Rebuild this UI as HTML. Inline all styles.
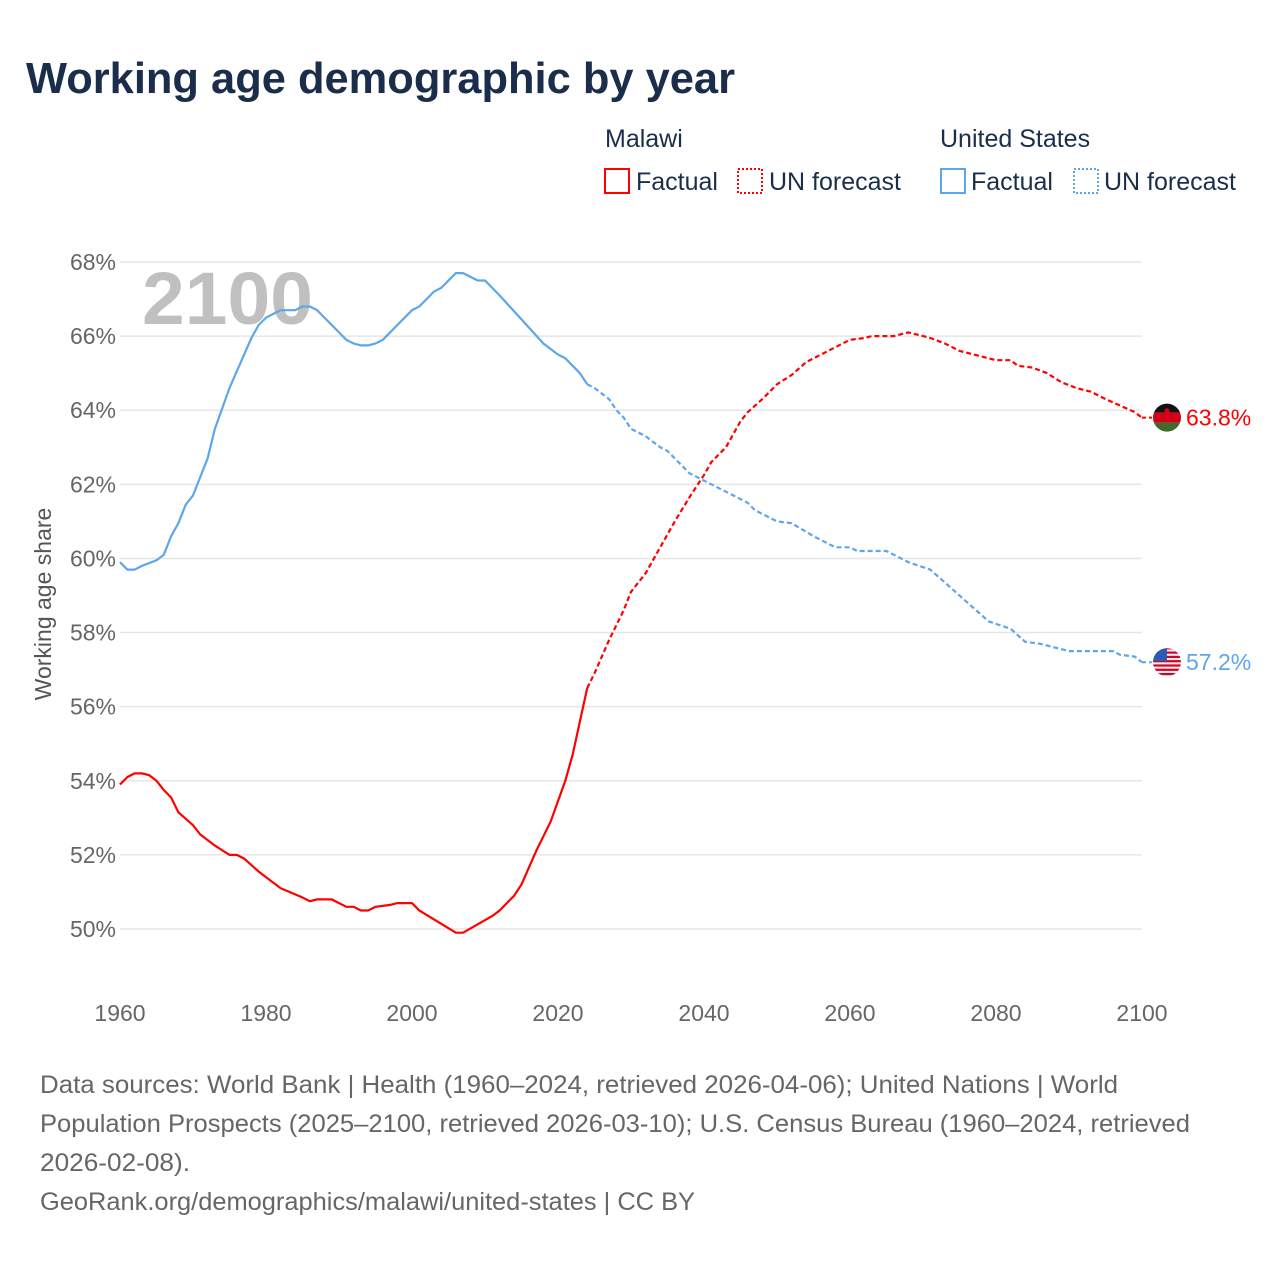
<!DOCTYPE html>
<html><head><meta charset="utf-8">
<style>
body{margin:0;background:#fff;font-family:"Liberation Sans",sans-serif;}
#wrap{position:relative;width:1280px;height:1280px;overflow:hidden;}
</style></head><body>
<div id="wrap">
<svg id="svg" width="1280" height="1280" xmlns="http://www.w3.org/2000/svg" font-family="Liberation Sans, sans-serif">
<text x="26" y="93" font-size="44" font-weight="bold" fill="#1a2e4c" textLength="709" lengthAdjust="spacingAndGlyphs">Working age demographic by year</text>
<g font-size="25" fill="#1a2e4c">
<text x="605" y="147">Malawi</text>
<rect x="605" y="169" width="24" height="24" fill="none" stroke="#f00" stroke-width="2"/>
<text x="636" y="190">Factual</text>
<rect x="738" y="169" width="24" height="24" fill="none" stroke="#f00" stroke-width="2" stroke-dasharray="2,2"/>
<text x="769" y="190">UN forecast</text>
<text x="940" y="147">United States</text>
<rect x="941" y="169" width="24" height="24" fill="none" stroke="#5ea6ea" stroke-width="2"/>
<text x="971" y="190">Factual</text>
<rect x="1074" y="169" width="24" height="24" fill="none" stroke="#5ea6ea" stroke-width="2" stroke-dasharray="2,2"/>
<text x="1104" y="190">UN forecast</text>
</g>
<g id="grid"></g>
<text x="142" y="324" font-size="74" font-weight="bold" fill="#c0c0c0" textLength="171" lengthAdjust="spacingAndGlyphs">2100</text>
<text transform="translate(51,604) rotate(-90)" text-anchor="middle" font-size="23" fill="#555">Working age share</text>
<g id="series"></g>
<g font-size="25" fill="#666">
<text x="40" y="1093" textLength="1078" lengthAdjust="spacingAndGlyphs">Data sources: World Bank | Health (1960–2024, retrieved 2026-04-06); United Nations | World</text>
<text x="40" y="1132" textLength="1150" lengthAdjust="spacingAndGlyphs">Population Prospects (2025–2100, retrieved 2026-03-10); U.S. Census Bureau (1960–2024, retrieved</text>
<text x="40" y="1171" textLength="150" lengthAdjust="spacingAndGlyphs">2026-02-08).</text>
<text x="40" y="1210" textLength="655" lengthAdjust="spacingAndGlyphs">GeoRank.org/demographics/malawi/united-states | CC BY</text>
</g>
</svg>
</div>
<script>
const yTicks=[50,52,54,56,58,60,62,64,66,68];
const xTicks=[1960,1980,2000,2020,2040,2060,2080,2100];
const usYears=[1960,1961,1962,1963,1965,1966,1967,1968,1969,1970,1972,1973,1975,1977,1978,1979,1980,1981,1982,1984,1985,1986,1987,1988,1990,1991,1992,1993,1994,1995,1996,1998,2000,2001,2003,2004,2006,2007,2009,2010,2012,2015,2018,2020,2021,2023,2024,2025,2027,2028,2029,2030,2032,2034,2035,2037,2038,2040,2042,2044,2046,2047,2050,2052,2055,2058,2060,2061,2065,2068,2071,2075,2079,2082,2084,2086,2087,2088,2090,2096,2097,2099,2100];
const usValues=[59.9,59.7,59.7,59.8,59.95,60.1,60.6,60.95,61.45,61.7,62.7,63.5,64.6,65.5,65.95,66.3,66.5,66.6,66.7,66.7,66.8,66.8,66.7,66.5,66.1,65.9,65.8,65.75,65.75,65.8,65.9,66.3,66.7,66.8,67.2,67.3,67.7,67.7,67.5,67.5,67.1,66.45,65.8,65.5,65.4,65.0,64.7,64.6,64.3,64.0,63.8,63.5,63.3,63.0,62.9,62.5,62.3,62.1,61.9,61.7,61.5,61.3,61.0,60.95,60.6,60.3,60.3,60.2,60.2,59.9,59.7,59.0,58.3,58.1,57.75,57.7,57.65,57.6,57.5,57.5,57.4,57.35,57.2];
const mwYears=[1960,1961,1962,1963,1964,1965,1966,1967,1968,1970,1971,1973,1975,1976,1977,1979,1982,1985,1986,1987,1989,1990,1991,1992,1993,1994,1995,1997,1998,2000,2001,2006,2007,2011,2012,2014,2015,2017,2019,2021,2022,2023,2024,2025,2027,2029,2030,2032,2034,2036,2038,2040,2041,2043,2045,2046,2048,2050,2052,2054,2058,2060,2062,2063,2066,2068,2070,2071,2073,2075,2077,2078,2080,2082,2083,2085,2087,2089,2091,2093,2095,2099,2100];
const mwValues=[53.9,54.1,54.2,54.2,54.15,54.0,53.75,53.55,53.15,52.8,52.55,52.25,52.0,52.0,51.9,51.55,51.1,50.85,50.75,50.8,50.8,50.7,50.6,50.6,50.5,50.5,50.6,50.65,50.7,50.7,50.5,49.9,49.9,50.35,50.5,50.9,51.2,52.1,52.9,54.0,54.7,55.6,56.5,56.9,57.8,58.6,59.1,59.6,60.3,61.0,61.65,62.25,62.6,63.0,63.7,63.95,64.3,64.7,64.95,65.3,65.7,65.9,65.95,66.0,66.0,66.1,66.0,65.95,65.8,65.6,65.5,65.45,65.35,65.35,65.2,65.15,65.0,64.75,64.6,64.5,64.3,63.95,63.8];
const lastFactual=2024;
const NS='http://www.w3.org/2000/svg';
function xs(y){return 120+(y-1960)*(1142-120)/140;}
function ys(v){return 929-(v-50)*(929-262)/18;}
const grid=document.getElementById('grid');
yTicks.forEach(t=>{
 const l=document.createElementNS(NS,'line');
 l.setAttribute('x1',120);l.setAttribute('x2',1142);l.setAttribute('y1',ys(t));l.setAttribute('y2',ys(t));
 l.setAttribute('stroke','#e6e6e6');l.setAttribute('stroke-width','1.5');
 
 
 grid.appendChild(l);
 const tx=document.createElementNS(NS,'text');
 tx.setAttribute('x',116);tx.setAttribute('y',ys(t)+8);tx.setAttribute('text-anchor','end');
 tx.setAttribute('font-size','23');tx.setAttribute('fill','#666');tx.textContent=t+'%';
 
 
 grid.appendChild(tx);
});
xTicks.forEach(t=>{
 const tx=document.createElementNS(NS,'text');
 tx.setAttribute('x',xs(t));tx.setAttribute('y',1021);tx.setAttribute('text-anchor','middle');
 tx.setAttribute('font-size','23');tx.setAttribute('fill','#666');tx.textContent=t;
 
 
 grid.appendChild(tx);
});
const ser=document.getElementById('series');
function draw(years,vals,color,name){
 const a=[],b=[];
 years.forEach((y,i)=>{const p=xs(y).toFixed(1)+','+ys(vals[i]).toFixed(1);
  if(y<=lastFactual)a.push(p); if(y>=lastFactual)b.push(p);});
 [[a,'',name+'-factual-line'],[b,'5,3',name+'-forecast-line']].forEach(([pts,d,n])=>{
  const pl=document.createElementNS(NS,'polyline');
  pl.setAttribute('points',pts.join(' '));pl.setAttribute('fill','none');
  pl.setAttribute('stroke',color);pl.setAttribute('stroke-width','2.2');
  if(d)pl.setAttribute('stroke-dasharray',d);
  
  
  ser.appendChild(pl);
 });
 const lv=vals[vals.length-1], ly=ys(lv);
 const tail=document.createElementNS(NS,'line');
 tail.setAttribute('x1',1142);tail.setAttribute('x2',1152);tail.setAttribute('y1',ly);tail.setAttribute('y2',ly);
 tail.setAttribute('stroke',color);tail.setAttribute('stroke-width','2');tail.setAttribute('stroke-dasharray','4,3');
 
 
 ser.appendChild(tail);
 const t=document.createElementNS(NS,'text');
 t.setAttribute('x',1186);t.setAttribute('y',ly+8);t.setAttribute('font-size','23');t.setAttribute('fill',color);
 t.textContent=lv.toFixed(1)+'%';
 
 
 ser.appendChild(t);
 return ly;
}
draw(usYears,usValues,'#5ea6ea','us');
const mwY=draw(mwYears,mwValues,'#ff0000','malawi');
const usY=ys(usValues[usValues.length-1]);
const cx=1167;
let g=document.createElementNS(NS,'g');


g.innerHTML=`<clipPath id="cm"><circle cx="${cx}" cy="${mwY}" r="14"/></clipPath><g clip-path="url(#cm)"><rect x="${cx-15}" y="${mwY-15}" width="30" height="10" fill="#111"/><rect x="${cx-15}" y="${mwY-5}" width="30" height="10" fill="#d40018"/><rect x="${cx-15}" y="${mwY+5}" width="30" height="10" fill="#3e6b2a"/><circle cx="${cx}" cy="${mwY-7}" r="2.5" fill="#d40018"/></g>`;
ser.appendChild(g);
g=document.createElementNS(NS,'g');


let stripes='';for(let i=0;i<7;i++)stripes+=`<rect x="${cx-15}" y="${usY-15+i*4.3}" width="30" height="2.2" fill="#d80027"/>`;
g.innerHTML=`<clipPath id="cu"><circle cx="${cx}" cy="${usY}" r="14"/></clipPath><g clip-path="url(#cu)"><rect x="${cx-15}" y="${usY-15}" width="30" height="30" fill="#f0f0f0"/>${stripes}<rect x="${cx-15}" y="${usY-15}" width="15" height="14" fill="#2a5bb5"/></g>`;
ser.appendChild(g);
</script>
</body></html>
